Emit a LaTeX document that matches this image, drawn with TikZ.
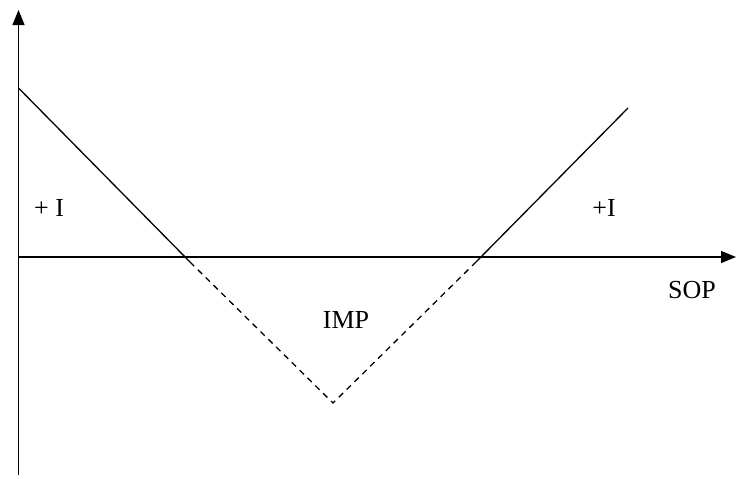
\documentclass[tikz,border=0pt]{standalone}
\usepackage{fontspec}
\setmainfont{Liberation Serif}
\usetikzlibrary{arrows.meta}
\begin{document}
\begin{tikzpicture}[x=1pt,y=-1pt,
  axis/.style={line width=1.3pt,-{Triangle[length=15pt,width=12pt]}},
  curve/.style={line width=1.3pt},
  dashcurve/.style={line width=1.3pt,dash pattern=on 6pt off 5pt},
  lbl/.style={font=\fontsize{26}{30}\selectfont,inner sep=0pt}]
\useasboundingbox (0,0) rectangle (736,479);
\coordinate (ybot) at (18.5,475);
\coordinate (ytop) at (18.5,10);
\coordinate (xl) at (18.5,257);
\coordinate (xr) at (736,257);
\draw[axis] (ybot) -- (ytop);
\draw[axis] (xl) -- (xr);
\coordinate (a) at (18.5,88);
\coordinate (b) at (190,262);
\coordinate (c) at (333,403);
\coordinate (d) at (476,262);
\coordinate (e) at (628,108);
\draw[curve] (a) -- (b);
\draw[dashcurve] (b) -- (c) -- (d);
\draw[curve] (d) -- (e);
\node[lbl] (l1) at (49,208) {+ I};
\node[lbl] (l2) at (604,208) {+I};
\node[lbl] (l3) at (346,320) {IMP};
\node[lbl] (l4) at (692,290) {SOP};
\end{tikzpicture}
\end{document}
